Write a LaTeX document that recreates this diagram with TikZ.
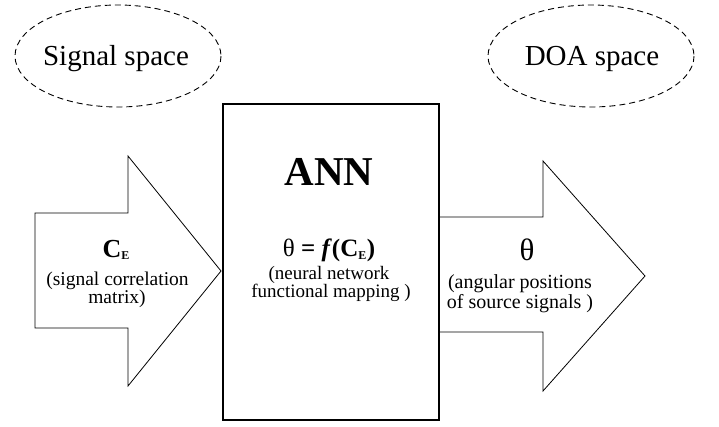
\documentclass[tikz,border=0pt]{standalone}
\usepackage{fontspec}
\setmainfont{Liberation Serif}
\tikzset{
  space/.style={draw, dashed, dash pattern=on 6pt off 4pt, line width=0.9pt},
  bigarrow/.style={draw, line width=0.8pt, line join=miter},
  annbox/.style={draw, line width=2.2pt},
  txt/.style={anchor=base, inner sep=0pt},
}
\newcommand{\fs}[1]{\fontsize{#1}{#1}\selectfont}
\begin{document}
\begin{tikzpicture}[x=1pt,y=-1pt]
\useasboundingbox (0,0) rectangle (719,426);
% ellipses
\draw[space] (118,56) ellipse [x radius=103, y radius=51];
\draw[space] (591,56) ellipse [x radius=103, y radius=51];
\node[txt] (sig) at (116,65) {\fs{29}Signal space};
\node[txt] (doa) at (592,65) {\fs{29}DOA space};
% left arrow
\draw[bigarrow] (35,213) -- (128,213) -- (128,156) -- (221,271) -- (128,386) -- (128,328) -- (35,328) -- cycle;
% right arrow
\draw[bigarrow] (439,217) -- (543,217) -- (543,161) -- (645,276) -- (543,391) -- (543,332) -- (439,332);
% box
\draw[annbox] (223,104) rectangle (439,420);
% texts
\node[txt] (ann) at (329,185) {\fs{41}\bfseries ANN};
\node[txt] (fmap) at (329,256) {\fs{25}θ \textbf{= \textit{f}(C\textsubscript{\fs{12}E})}};
\node[txt] (nn1) at (329,279) {\fs{19}(neural network};
\node[txt] (nn2) at (331,297.5) {\fs{19}functional mapping )};
\node[txt] (ce) at (116,257) {\fs{26}\textbf{C}\raisebox{-2pt}{\fs{12}\bfseries E}};
\node[txt] (sc1) at (117.5,285) {\fs{19.5}(signal correlation};
\node[txt] (sc2) at (117,303) {\fs{19.5}matrix)};
\node[txt] (th) at (527,260) {\fs{31}θ};
\node[txt] (ap1) at (520,288) {\fs{20}(angular positions};
\node[txt] (ap2) at (520,308) {\fs{20}of source signals )};
\end{tikzpicture}
\end{document}
